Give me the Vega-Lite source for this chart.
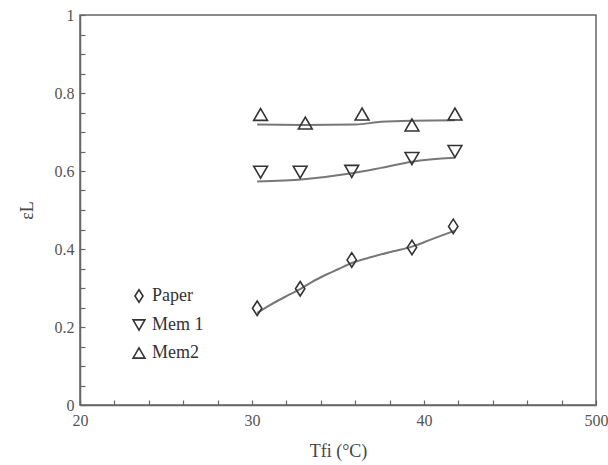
{
  "$schema": "https://vega.github.io/schema/vega-lite/v6.json",
  "width": 516,
  "height": 390,
  "autosize": {"type": "none"},
  "padding": {"left": 80, "top": 15, "right": 12, "bottom": 60},
  "background": "white",
  "config": {
    "view": {"stroke": "#666", "strokeWidth": 1.5},
    "font": "Liberation Serif",
    "axis": {
      "domainColor": "#666",
      "domainWidth": 1.5,
      "tickColor": "#666",
      "tickWidth": 1.2,
      "tickSize": -5,
      "labelFont": "Liberation Serif",
      "labelFontSize": 16,
      "labelColor": "#555",
      "titleFont": "Liberation Serif",
      "titleFontSize": 18,
      "titleFontWeight": "normal",
      "titleColor": "#444",
      "grid": false
    }
  },
  "data": {
    "values": [
      {"series": "Mem2", "kind": "obs", "x": 30.5, "y": 0.745},
      {"series": "Mem2", "kind": "obs", "x": 33.1, "y": 0.723},
      {"series": "Mem2", "kind": "obs", "x": 36.4, "y": 0.746},
      {"series": "Mem2", "kind": "obs", "x": 39.3, "y": 0.718},
      {"series": "Mem2", "kind": "obs", "x": 41.8, "y": 0.746},
      {"series": "Mem1", "kind": "obs", "x": 30.5, "y": 0.597},
      {"series": "Mem1", "kind": "obs", "x": 32.8, "y": 0.597},
      {"series": "Mem1", "kind": "obs", "x": 35.8, "y": 0.599},
      {"series": "Mem1", "kind": "obs", "x": 39.3, "y": 0.632},
      {"series": "Mem1", "kind": "obs", "x": 41.8, "y": 0.65},
      {"series": "Paper", "kind": "obs", "x": 30.3, "y": 0.248},
      {"series": "Paper", "kind": "obs", "x": 32.8, "y": 0.298},
      {"series": "Paper", "kind": "obs", "x": 35.8, "y": 0.372},
      {"series": "Paper", "kind": "obs", "x": 39.3, "y": 0.404},
      {"series": "Paper", "kind": "obs", "x": 41.7, "y": 0.458},
      {"series": "Mem2", "kind": "fit", "x": 30.3, "y": 0.719},
      {"series": "Mem2", "kind": "fit", "x": 33.0, "y": 0.718},
      {"series": "Mem2", "kind": "fit", "x": 36.0, "y": 0.719},
      {"series": "Mem2", "kind": "fit", "x": 37.5, "y": 0.726},
      {"series": "Mem2", "kind": "fit", "x": 39.3, "y": 0.729},
      {"series": "Mem2", "kind": "fit", "x": 41.8, "y": 0.73},
      {"series": "Mem1", "kind": "fit", "x": 30.3, "y": 0.573},
      {"series": "Mem1", "kind": "fit", "x": 33.0, "y": 0.579},
      {"series": "Mem1", "kind": "fit", "x": 35.8, "y": 0.594},
      {"series": "Mem1", "kind": "fit", "x": 37.5, "y": 0.608},
      {"series": "Mem1", "kind": "fit", "x": 39.3, "y": 0.624},
      {"series": "Mem1", "kind": "fit", "x": 41.8, "y": 0.634},
      {"series": "Paper", "kind": "fit", "x": 30.3, "y": 0.236},
      {"series": "Paper", "kind": "fit", "x": 31.0, "y": 0.255},
      {"series": "Paper", "kind": "fit", "x": 32.0, "y": 0.279},
      {"series": "Paper", "kind": "fit", "x": 32.8, "y": 0.297},
      {"series": "Paper", "kind": "fit", "x": 33.5, "y": 0.316},
      {"series": "Paper", "kind": "fit", "x": 34.3, "y": 0.334},
      {"series": "Paper", "kind": "fit", "x": 35.0, "y": 0.348},
      {"series": "Paper", "kind": "fit", "x": 35.8, "y": 0.364},
      {"series": "Paper", "kind": "fit", "x": 37.0, "y": 0.38},
      {"series": "Paper", "kind": "fit", "x": 38.2, "y": 0.394},
      {"series": "Paper", "kind": "fit", "x": 39.3, "y": 0.406},
      {"series": "Paper", "kind": "fit", "x": 40.5, "y": 0.426},
      {"series": "Paper", "kind": "fit", "x": 41.8, "y": 0.447}
    ]
  },
  "encoding": {
    "x": {
      "field": "x",
      "type": "quantitative",
      "scale": {"domain": [20, 50], "nice": false, "zero": false},
      "axis": {
        "title": "Tfi (°C)",
        "values": [20, 22, 24, 26, 28, 30, 32, 34, 36, 38, 40, 42, 44, 46, 48, 50],
        "labelExpr": "datum.value % 10 === 0 ? (datum.value === 50 ? '500' : datum.label) : ''",
        "labelPadding": 12,
        "labelFlush": false,
        "titlePadding": 14
      }
    },
    "y": {
      "field": "y",
      "type": "quantitative",
      "scale": {"domain": [0, 1], "nice": false},
      "axis": {
        "title": "εL",
        "values": [0, 0.05, 0.1, 0.15, 0.2, 0.25, 0.3, 0.35, 0.4, 0.45, 0.5, 0.55, 0.6, 0.65, 0.7, 0.75, 0.8, 0.85, 0.9, 0.95, 1],
        "format": "~g",
        "labelExpr": "(round(datum.value * 100) % 20 === 0) ? datum.label : ''",
        "labelPadding": 11,
        "labelFlush": false,
        "titlePadding": 18
      }
    }
  },
  "layer": [
    {
      "transform": [{"filter": "datum.kind === 'fit'"}],
      "mark": {"type": "line", "color": "#777", "strokeWidth": 2, "interpolate": "monotone"},
      "encoding": {"detail": {"field": "series"}}
    },
    {
      "transform": [{"filter": "datum.kind === 'obs'"}],
      "mark": {"type": "point", "filled": false, "color": "#333", "strokeWidth": 1.6, "size": 190, "opacity": 1},
      "encoding": {
        "shape": {
          "field": "series",
          "type": "nominal",
          "scale": {
            "domain": ["Paper", "Mem1", "Mem2"],
            "range": ["M0,-1.05L0.68,0L0,1.05L-0.68,0Z", "triangle-down", "triangle-up"]
          },
          "legend": {
            "orient": "none",
            "legendX": 50,
            "legendY": 272,
            "title": null,
            "labelFont": "Liberation Serif",
            "labelFontSize": 18,
            "labelColor": "#333",
            "symbolStrokeColor": "#333",
            "symbolStrokeWidth": 1.6,
            "symbolSize": 140,
            "symbolFillColor": "transparent",
            "rowPadding": 10,
            "labelOffset": 4,
            "labelExpr": "datum.label === 'Mem1' ? 'Mem 1' : datum.label"
          }
        }
      }
    }
  ]
}
